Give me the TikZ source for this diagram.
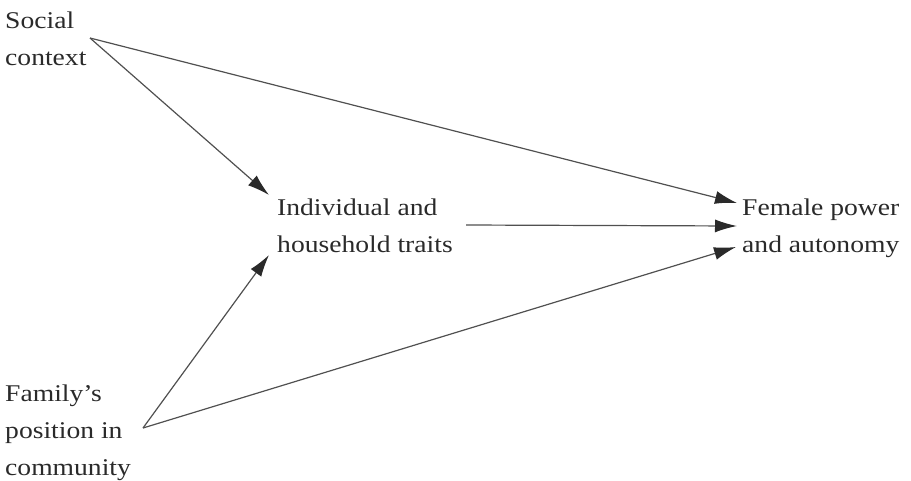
\documentclass[tikz,border=0pt]{standalone}
\usepackage{fontspec}
\setmainfont{Liberation Serif}[FakeStretch=1.15]
\usetikzlibrary{arrows.meta}
\definecolor{txt}{HTML}{2A2A2A}
\definecolor{ln}{HTML}{505050}
\begin{document}
\begin{tikzpicture}[x=1pt,y=-1pt,
  lbl/.style={anchor=base west, align=left, inner sep=0pt, text=txt,
    font=\fontsize{24}{37}\selectfont},
  conn/.style={draw=ln, line width=1.2pt,
    -{Latex[length=22pt,width=13pt,fill=txt,color=txt]}}]
\useasboundingbox (0,0) rectangle (911,480);
\node[lbl] (soc) at (5,65) {Social\\context};
\node[lbl] (ind) at (277,252) {Individual and\\household traits};
\node[lbl] (fem) at (742,252) {Female power\\and autonomy};
\node[lbl] (fam) at (5,475) {Family’s\\position in\\community};
\coordinate (socout) at (90,38);
\coordinate (famout) at (143,428);
\coordinate (indout) at (466,225);
\coordinate (indinA) at (269,195);
\coordinate (indinB) at (269,255);
\coordinate (feminA) at (737,203);
\coordinate (feminB) at (737,226);
\coordinate (feminC) at (736,247);
\draw[conn] (socout) -- (indinA);
\draw[conn] (socout) -- (feminA);
\draw[conn] (indout) -- (feminB);
\draw[conn] (famout) -- (indinB);
\draw[conn] (famout) -- (feminC);
\end{tikzpicture}
\end{document}
